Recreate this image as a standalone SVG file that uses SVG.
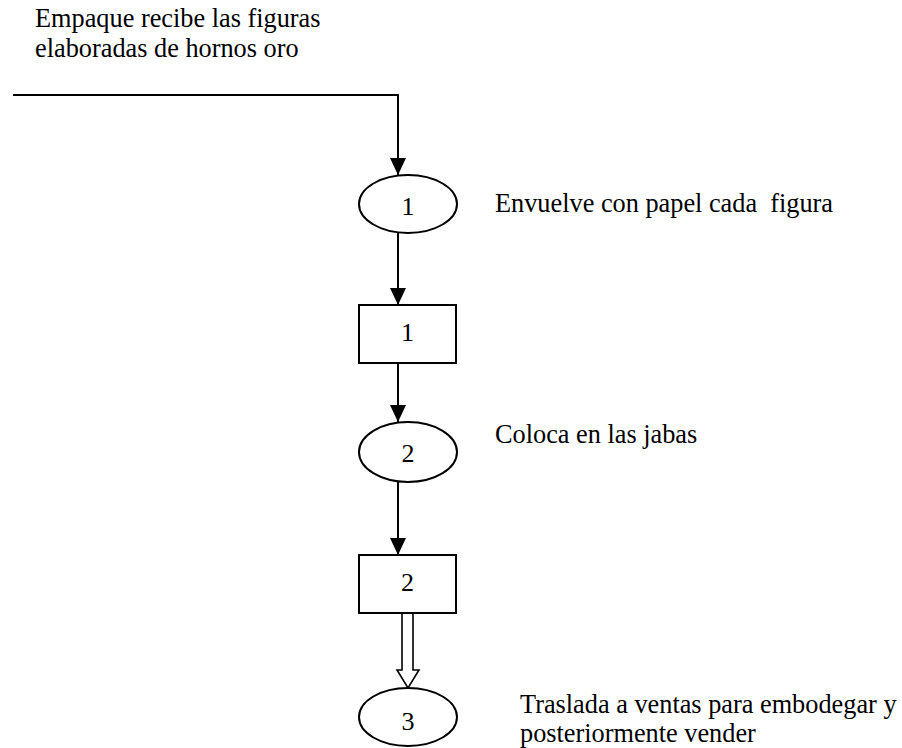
<svg xmlns="http://www.w3.org/2000/svg" width="902" height="748" viewBox="0 0 902 748">
  <defs>
    <marker id="arrow" markerUnits="userSpaceOnUse" markerWidth="18" markerHeight="18" viewBox="0 0 18 18" refX="17" refY="9" orient="auto">
      <path d="M0,1 L17,9 L0,17 Z" fill="#000"/>
    </marker>
    <style>
      text { font-family: 'Liberation Serif', 'DejaVu Serif', serif; fill: #000; font-size: 26px; }
      .label { font-size: 26.3px; }
      .num { text-anchor: middle; }
      .shape { fill: #fff; stroke: #000; stroke-width: 2; }
      .flow { fill: none; stroke: #000; stroke-width: 2; }
    </style>
  </defs>
  <rect width="902" height="748" fill="#fff"/>

  <!-- Connectors -->
  <g id="connectors">
    <line class="flow" x1="13" y1="95" x2="399" y2="95"/>
    <line class="flow" x1="398" y1="96" x2="398" y2="175" marker-end="url(#arrow)"/>
    <line class="flow" x1="398" y1="227" x2="398" y2="305" marker-end="url(#arrow)"/>
    <line class="flow" x1="398" y1="363" x2="398" y2="422" marker-end="url(#arrow)"/>
    <line class="flow" x1="398" y1="482" x2="398" y2="555" marker-end="url(#arrow)"/>
    <!-- hollow transport arrow -->
    <path d="M402,614 L402,670 L397,670 L408,688 L419,670 L413,670 L413,614" fill="#fff" stroke="#000" stroke-width="1.6" stroke-linejoin="miter"/>
  </g>

  <!-- Start text -->
  <g id="start">
    <text class="label" x="35" y="27">Empaque recibe las figuras</text>
    <text class="label" x="35" y="57">elaboradas de hornos oro</text>
  </g>

  <g id="op1">
    <ellipse class="shape" cx="408" cy="204" rx="49" ry="29"/>
    <text class="num" x="408" y="215">1</text>
    <text class="label" x="495" y="212" xml:space="preserve">Envuelve con papel cada  figura</text>
  </g>

  <g id="insp1">
    <rect class="shape" x="359" y="305" width="97" height="58"/>
    <text class="num" x="407.5" y="341">1</text>
  </g>

  <g id="op2">
    <ellipse class="shape" cx="408" cy="452" rx="49" ry="30"/>
    <text class="num" x="408" y="462">2</text>
    <text class="label" x="495" y="443">Coloca en las jabas</text>
  </g>

  <g id="insp2">
    <rect class="shape" x="359" y="555" width="97" height="58"/>
    <text class="num" x="407.5" y="591">2</text>
  </g>

  <g id="op3">
    <ellipse class="shape" cx="408" cy="717" rx="49" ry="29"/>
    <text class="num" x="408" y="730">3</text>
    <text class="label" x="520" y="713">Traslada a ventas para embodegar y</text>
    <text class="label" x="520" y="742">posteriormente vender</text>
  </g>
</svg>
